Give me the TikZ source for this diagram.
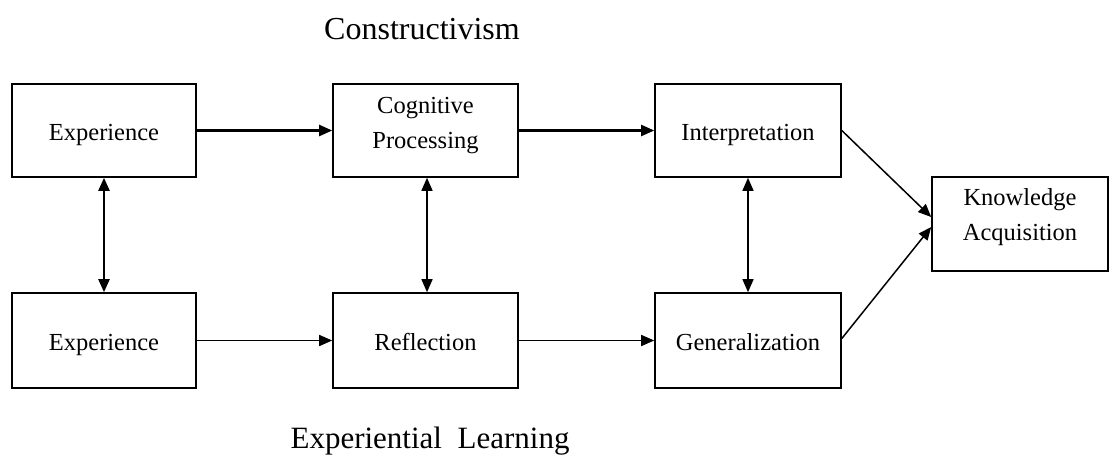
\documentclass[tikz,border=0pt]{standalone}
\usepackage{fontspec}
\setmainfont{Liberation Serif}
\usetikzlibrary{arrows.meta}
\begin{document}
\begin{tikzpicture}[x=1pt,y=-1pt,
  box/.style={draw, line width=1.6pt, inner sep=0pt, align=center,
    font=\fontsize{24.5}{35}\selectfont, text height=20pt, text depth=0pt},
  title/.style={font=\fontsize{32}{38}\selectfont, inner sep=0pt, anchor=base},
  tip/.style={-{Triangle[length=13pt,width=11pt]}},
  dtip/.style={{Triangle[length=13pt,width=11pt]}-{Triangle[length=13pt,width=11pt]}},
  thick arrow/.style={line width=2.2pt},
  thin arrow/.style={line width=1.5pt}]
\useasboundingbox (0,0) rectangle (1111,456);
\fill[white] (0,0) rectangle (1111,456);

\node[title] (t1) at (422,39) {Constructivism};
\node[title, font=\fontsize{31}{38}\selectfont] (t2) at (430,448) {Experiential~~Learning};

\node[box, minimum width=184pt, minimum height=93pt] (exp1) at (104,130.5) {Experience};
\node[box, minimum width=185pt, minimum height=93pt, text height=35pt] (cog) at (425.5,130.5)
  {\begin{tabular}[b]{@{}c@{}}Cognitive\\Processing\end{tabular}};
\node[box, minimum width=186pt, minimum height=93pt] (int) at (748,130.5) {Interpretation};

\node[box, minimum width=184pt, minimum height=95pt] (exp2) at (104,340.5) {Experience};
\node[box, minimum width=185pt, minimum height=95pt] (refl) at (425.5,340.5) {Reflection};
\node[box, minimum width=186pt, minimum height=95pt] (gen) at (748,340.5) {Generalization};

\node[box, minimum width=176pt, minimum height=94pt, text height=33pt] (know) at (1020,224)
  {\begin{tabular}[b]{@{}c@{}}Knowledge\\Acquisition\end{tabular}};

\draw[tip, thick arrow] (exp1.east) -- (cog.west);
\draw[tip, thick arrow] (cog.east) -- (int.west);
\draw[tip, thin arrow] (exp2.east) -- (refl.west);
\draw[tip, thin arrow] (refl.east) -- (gen.west);

\draw[dtip, thick arrow] (exp1.south) -- (exp2.north);
\draw[dtip, thin arrow] ([xshift=1.5pt]cog.south) -- ([xshift=1.5pt]refl.north);
\draw[dtip, thin arrow] (int.south) -- (gen.north);

\draw[tip, thin arrow] (int.east) -- ([yshift=7pt]know.west);
\draw[tip, thin arrow] ([yshift=2pt]gen.east) -- ([yshift=-3pt]know.west);
\end{tikzpicture}
\end{document}
